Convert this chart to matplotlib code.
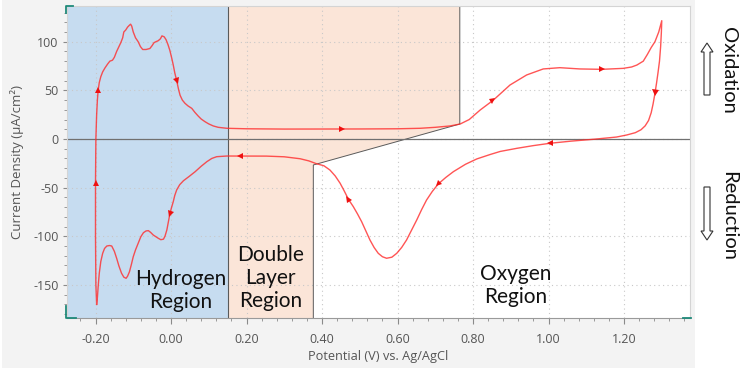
import numpy as np
import matplotlib
matplotlib.use('Agg')
import matplotlib.pyplot as plt
from matplotlib.markers import MarkerStyle
from matplotlib.transforms import Affine2D
from matplotlib.patches import Rectangle, FancyArrow, Polygon
from matplotlib.lines import Line2D
from matplotlib.ticker import MultipleLocator, FormatStrFormatter

plt.rcParams['axes.unicode_minus'] = False

# anodic sweep, -0.2 V -> 1.3 V  (potential in V, current density in uA/cm2)
fwd_v = [-0.197, -0.199, -0.200, -0.200, -0.199, -0.197, -0.195, -0.193, -0.190, -0.186,
         -0.181, -0.175, -0.168, -0.162, -0.155, -0.150, -0.144, -0.138, -0.133, -0.128,
         -0.125, -0.120, -0.115, -0.110, -0.107, -0.104, -0.100, -0.094, -0.087, -0.081,
         -0.075, -0.066, -0.056, -0.050, -0.045, -0.040, -0.034, -0.028, -0.024, -0.018,
         -0.013, -0.008, -0.003, 0.002, 0.006, 0.010, 0.015, 0.020, 0.024, 0.030,
         0.037, 0.045, 0.055, 0.063, 0.072, 0.080, 0.090, 0.100, 0.112, 0.125,
         0.148, 0.20, 0.30, 0.40, 0.50, 0.60, 0.66, 0.70, 0.739, 0.766,
         0.790, 0.819, 0.854, 0.898, 0.942, 0.986, 1.030, 1.083, 1.141, 1.198,
         1.220, 1.234, 1.251, 1.262, 1.272, 1.282, 1.292, 1.300]
fwd_i = [-170, -150, -100, -45, 0, 25, 40, 50, 58, 64,
         69, 73, 77, 80, 81, 84, 90, 95, 99, 104,
         110, 112, 115, 117, 118, 116, 110, 104, 100, 95,
         92, 92, 93, 96, 99, 100, 101, 103, 106, 105,
         102, 97, 91, 83, 76, 68, 60, 51, 45, 40,
         36.7, 34, 31.5, 27.5, 23.6, 20.5, 17.8, 15.5, 13.4, 12,
         11, 10.5, 10.2, 10.2, 10.3, 10.5, 11, 12, 13.4, 15.4,
         20, 29.8, 40, 55.5, 65.8, 72, 73.3, 72, 71.6, 72.6,
         74, 76, 80, 87, 94, 100, 110, 121.6]

# cathodic sweep, 1.3 V -> -0.2 V
rev_v = [1.299, 1.297, 1.294, 1.290, 1.286, 1.282, 1.277, 1.272, 1.265, 1.256,
         1.245, 1.230, 1.207, 1.180, 1.145, 1.119, 1.060, 1.004, 0.960, 0.916,
         0.872, 0.845, 0.810, 0.780, 0.748, 0.728, 0.708, 0.692, 0.677, 0.664,
         0.651, 0.637, 0.624, 0.611, 0.598, 0.585, 0.571, 0.560, 0.549, 0.538,
         0.527, 0.516, 0.505, 0.494, 0.483, 0.470, 0.459, 0.448, 0.435, 0.421,
         0.405, 0.386, 0.365, 0.342, 0.300, 0.253, 0.200, 0.148, 0.121, 0.108,
         0.095, 0.080, 0.064, 0.048, 0.033, 0.023, 0.015, 0.010, 0.006, 0.001,
         -0.003, -0.007, -0.011, -0.016, -0.020, -0.027, -0.034, -0.040, -0.047, -0.054,
         -0.060, -0.066, -0.073, -0.080, -0.087, -0.094, -0.100, -0.105, -0.110, -0.115,
         -0.119, -0.125, -0.131, -0.138, -0.144, -0.150, -0.157, -0.163, -0.170, -0.176,
         -0.181, -0.186, -0.190, -0.193, -0.195, -0.197]
rev_i = [110, 95, 80, 68, 57, 47, 36, 27, 19, 13.5,
         9.5, 6.5, 4.1, 2, 0.7, -0.3, -2.2, -4.4, -6.8, -9.6,
         -12.8, -16, -20.5, -26, -33.6, -39.5, -46.2, -54, -62.7, -72.5,
         -83.2, -94, -103.8, -111.5, -117.5, -121.5, -122.6, -121, -117.5, -111.5,
         -103.8, -94.5, -85, -77, -69.6, -62, -53.5, -45.5, -38, -31.9,
         -27.5, -25.5, -22.5, -20.3, -18.3, -17.6, -17.5, -17.5, -18.2, -20,
         -23.3, -28, -33.6, -38.5, -42.9, -47, -52.4, -58, -64.4, -71,
         -77, -85, -93.5, -100, -103, -103.5, -102, -100.5, -98.7, -96,
         -94.2, -94.5, -96.3, -100.5, -107.2, -114, -121, -129, -136.4, -141,
         -143.2, -142, -138, -130.5, -122.6, -115.5, -110, -109.5, -110, -112.5,
         -117.5, -126, -138, -152, -163, -170]

# scan direction markers sitting on the curve
arrow_v = [-0.193, 0.015, 0.452, 0.854, 1.141, 1.282, 1.004, 0.708, 0.470, 0.183, -0.003, -0.200]
arrow_i = [50, 60, 10, 40, 72, 47, -4.4, -46, -62, -17.5, -77, -45]

# region boundaries
h_edge = 0.151
dl_top_x, dl_top_i = 0.765, 15.4
dl_bot_x, dl_bot_i = 0.377, -26.7

x_lim = (-0.2755, 1.3748)
y_lim = (-184, 136.7)

W, H = 750, 371
def fpx(x, y):
    return x / W, 1 - y / H

fig = plt.figure(figsize=(7.5, 3.71), dpi=100, facecolor='white')
fig.patches.append(Rectangle(fpx(2, 368), 693 / W, 368 / H, transform=fig.transFigure,
                             facecolor='#f3f3f3', edgecolor='none', zorder=-10))

ax = fig.add_axes([67 / W, 1 - 318 / H, 623 / W, 312 / H])
ax.set_facecolor('white')
ax.set_xlim(*x_lim)
ax.set_ylim(*y_lim)
ax.set_axisbelow(True)

# shaded regions
y0, y1 = y_lim
ax.add_patch(Polygon([(x_lim[0], y0), (x_lim[0], y1), (h_edge, y1), (h_edge, y0)],
                     closed=True, facecolor='#c6dcf0', edgecolor='none', zorder=0.2))
ax.add_patch(Polygon([(h_edge, y1), (dl_top_x, y1), (dl_top_x, dl_top_i), (dl_bot_x, dl_bot_i),
                      (dl_bot_x, y0), (h_edge, y0)],
                     closed=True, facecolor='#fbe5d8', edgecolor='none', zorder=0.2))
ax.plot([h_edge, h_edge], [y0, y1], color='#5a5a5a', lw=0.8, zorder=1)
ax.plot([dl_top_x, dl_top_x, dl_bot_x, dl_bot_x], [y1, dl_top_i, dl_bot_i, y0],
        color='#5a5a5a', lw=0.7, zorder=1)

ax.axhline(0, color='#707070', lw=0.9, zorder=1.5)

# CV curve
cv_v = np.array(fwd_v + rev_v)
cv_i = np.array(fwd_i + rev_i)
ax.plot(cv_v, cv_i, color='#ff2a2a', lw=1.0, alpha=0.8, zorder=3)

# direction triangles
pts = ax.transData.transform(np.column_stack([cv_v, cv_i]))
for av, ai in zip(arrow_v, arrow_i):
    p = ax.transData.transform((av, ai))
    a, b = pts[:-1], pts[1:]
    d = b - a
    t = np.clip(((p - a) * d).sum(1) / np.maximum((d * d).sum(1), 1e-9), 0, 1)
    dist = np.hypot(*(a + d * t[:, None] - p).T)
    k = np.argmin(dist)
    ang = np.degrees(np.arctan2(d[k, 1], d[k, 0]))
    m = MarkerStyle('^', transform=Affine2D().rotate_deg(ang - 90))
    ax.plot(av, ai, marker=m, color='#ee1111', ms=4.5, mew=0, zorder=4)

# axes styling
ax.xaxis.set_major_locator(MultipleLocator(0.2))
ax.xaxis.set_minor_locator(MultipleLocator(0.04))
ax.xaxis.set_major_formatter(FormatStrFormatter('%.2f'))
ax.yaxis.set_major_locator(MultipleLocator(50))
ax.yaxis.set_minor_locator(MultipleLocator(10))
ax.grid(True, which='major', color='#c8c8c8', lw=0.8, ls=(0, (1, 3)))
ax.tick_params(axis='both', which='both', direction='out', color='#8a8a8a',
               labelcolor='#555555', labelsize=9)
ax.tick_params(axis='x', which='major', length=4, pad=7)
ax.tick_params(axis='x', which='minor', length=2.5)
ax.tick_params(axis='y', which='major', length=3, pad=3)
ax.tick_params(axis='y', which='minor', length=2)
for lab in ax.get_xticklabels() + ax.get_yticklabels():
    lab.set_family('Open Sans')
for s in ['top', 'right', 'left']:
    ax.spines[s].set_color('#d4d4d4')
    ax.spines[s].set_linewidth(0.8)
ax.spines['bottom'].set_color('#9a9a9a')
ax.spines['bottom'].set_linewidth(0.8)

ax.set_xlabel('Potential (V) vs. Ag/AgCl', family='Open Sans', fontsize=9.2,
              color='#555555', labelpad=3)
ax.set_ylabel('Current Density (µA/cm²)', family='Open Sans', fontsize=9.5,
              color='#555555', labelpad=7)

# region labels
kw = dict(family='Lato', fontsize=15, color='#111111', ha='center', va='center',
          linespacing=1.2, zorder=5)
ax.text(0.026, -156, 'Hydrogen\nRegion', **kw)
ax.text(0.263, -143, 'Double\nLayer\nRegion', **kw)
ax.text(0.914, -151, 'Oxygen\nRegion', **kw)

# oxidation / reduction side notes
fig.text(*fpx(729, 70), 'Oxidation', rotation=270, ha='center', va='center',
         family='Lato', fontsize=14.5, color='#111111')
fig.text(*fpx(729, 216), 'Reduction', rotation=270, ha='center', va='center',
         family='Lato', fontsize=14.5, color='#111111')
for ytail, yhead in [(95, 43), (187, 240)]:
    x0, yt = fpx(707, ytail)
    _, yh = fpx(707, yhead)
    fig.patches.append(FancyArrow(x0, yt, 0, yh - yt, width=6 / W, head_width=12 / W,
                                  head_length=9 / H, length_includes_head=True,
                                  transform=fig.transFigure, facecolor='white',
                                  edgecolor='#333333', lw=0.8))

# teal corner handles
teal = '#1f8a7a'
for xs, ys in [([73, 66, 66], [6, 6, 13]), ([66, 66, 76], [306, 318, 318]),
               ([683, 691], [318, 318])]:
    fx = [x / W for x in xs]
    fy = [1 - y / H for y in ys]
    fig.add_artist(Line2D(fx, fy, color=teal, lw=1.3, transform=fig.transFigure))

fig.savefig('out.png', dpi=100, facecolor=fig.get_facecolor())
